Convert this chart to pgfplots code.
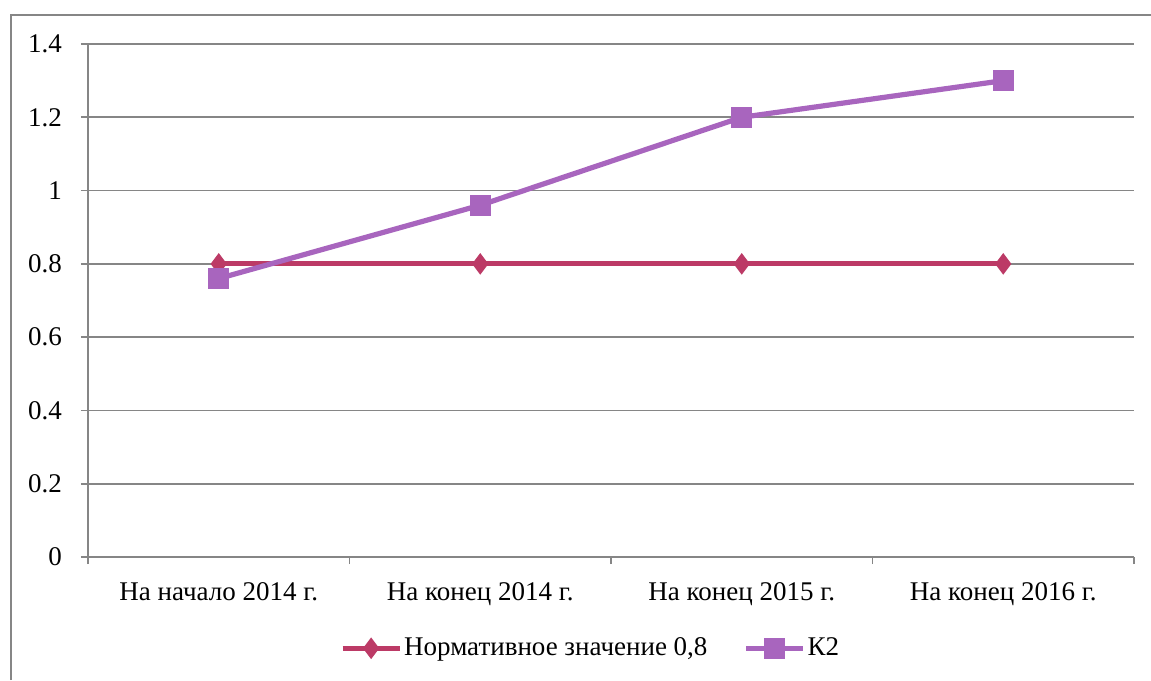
\documentclass[border=0pt]{standalone}
\usepackage{fontspec}
\setmainfont{LiberationSerif}[Extension=.ttf, UprightFont=*-Regular, BoldFont=*-Bold]
\newfontfamily\chartfont{LiberationSerif}[Extension=.ttf, UprightFont=*-Regular]
\usepackage{pgfplots}
\pgfplotsset{compat=1.18}

\definecolor{gridgray}{RGB}{134,134,134}
\definecolor{normred}{RGB}{188,58,102}
\definecolor{ktwo}{RGB}{168,101,190}

\pgfplotstableread{
x norm k2
0 0.8 0.76
1 0.8 0.96
2 0.8 1.2
3 0.8 1.3
}\datatable

\begin{document}
\begin{tikzpicture}[x=1pt,y=1pt]
  % page size and outer frame
  \path[use as bounding box] (0,0) rectangle (575.5,340);
  \draw[gridgray, line width=1pt] (5.5,0) -- (5.5,332.5) -- (575.5,332.5);
  \begin{axis}[
    at={(44pt,61.5pt)}, anchor=south west,
    scale only axis, width=523pt, height=256.5pt,
    xmin=-0.5, xmax=3.5, ymin=0, ymax=1.4,
    xtick={0,1,2,3},
    xticklabels={На начало 2014 г., На конец 2014 г., На конец 2015 г., На конец 2016 г.},
    minor xtick={-0.5,0.5,1.5,2.5,3.5},
    ytick={0,0.2,0.4,0.6,0.8,1,1.2,1.4},
    yticklabels={0,0.2,0.4,0.6,0.8,1,1.2,1.4},
    axis x line*=bottom, axis y line*=left,
    axis line style={gridgray, line width=0.9pt, -},
    tick align=outside,
    major tick length=3.5pt, minor tick length=3.5pt,
    every major x tick/.append style={draw=none},
    every minor x tick/.append style={gridgray, line width=0.9pt},
    every major y tick/.append style={gridgray, line width=0.9pt},
    ymajorgrids,
    grid style={gridgray, line width=0.9pt},
    tick label style={font=\chartfont\fontsize{13.5}{15}\selectfont, black},
    yticklabel style={xshift=-6pt},
    xticklabel style={yshift=-5.5pt},
    legend style={draw=none, at={(0.4805,-0.178)}, anchor=center,
      nodes={inner xsep=1pt},
      font=\chartfont\fontsize{13.5}{15}\selectfont,
      /tikz/every even column/.append style={column sep=17pt}},
    legend columns=2,
    legend image code/.code={
      \draw[#1, mark=none] (0pt,0pt) -- (28.5pt,0pt);
      \draw[#1, only marks] plot coordinates {(14.25pt,0pt)};
    },
  ]
    \addplot[normred, line width=2.6pt, mark=diamond*, mark size=5pt,
      mark options={solid, fill=normred, line width=0.5pt}] table[x=x, y=norm] {\datatable};
    \addlegendentry{Нормативное значение 0,8}
    \addplot[ktwo, line width=2.6pt, mark=square*, mark size=5pt,
      mark options={solid, fill=ktwo, line width=0.5pt}] table[x=x, y=k2] {\datatable};
    \addlegendentry{К2}
  \end{axis}
\end{tikzpicture}
\end{document}
